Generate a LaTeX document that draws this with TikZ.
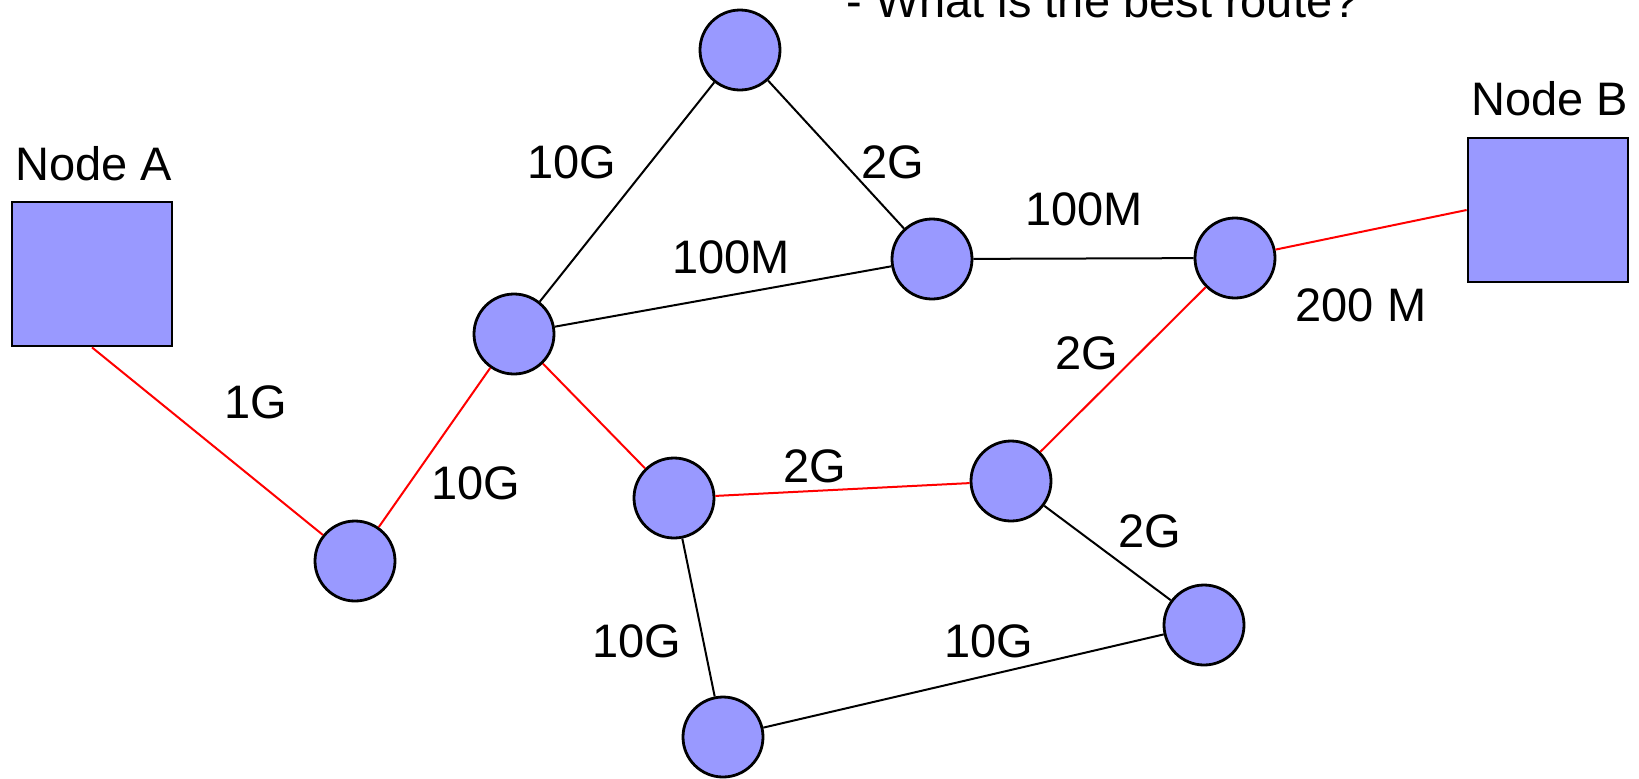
\documentclass[tikz,border=0pt]{standalone}
\usepackage{fontspec}
\setmainfont{Liberation Sans}
\definecolor{nodefill}{HTML}{9999FF}
\begin{document}
\begin{tikzpicture}[x=0.5pt,y=-0.5pt,
  router/.style={circle,draw=black,line width=1.4pt,fill=nodefill,minimum size=40pt,inner sep=0pt},
  host/.style={rectangle,draw=black,line width=1.4pt,fill=nodefill,minimum width=80pt,minimum height=72pt,inner sep=0pt},
  lbl/.style={inner sep=0pt,font=\fontsize{23.5}{28}\selectfont},
  link/.style={line width=1pt,draw=black},
  best/.style={line width=1pt,draw=red}]
\useasboundingbox (0,0) rectangle (1639,778);
% nodes
\node[host] (A) at (92,274) {};
\node[host] (B) at (1548,210) {};
\node[router] (T) at (740,50) {};
\node[router] (C1) at (514,334) {};
\node[router] (C2) at (932,259) {};
\node[router] (C3) at (1235,258) {};
\node[router] (BL) at (355,561) {};
\node[router] (C4) at (674,498) {};
\node[router] (C5) at (1011,481) {};
\node[router] (C6) at (1204,625) {};
\node[router] (Bot) at (723,737) {};
% links
\draw[link] (T) -- (C1);
\draw[link] (T) -- (C2);
\draw[link] (C1) -- (C2);
\draw[link] (C2) -- (C3);
\draw[link] (C4) -- (Bot);
\draw[link] (Bot) -- (C6);
\draw[link] (C5) -- (C6);
\draw[best] (A.south) -- (BL);
\draw[best] (BL) -- (C1);
\draw[best] (C1) -- (C4);
\draw[best] (C4) -- (C5);
\draw[best] (C5) -- (C3);
\draw[best] (C3) -- (B.west);
% labels
\node[lbl] (lA) at (94,164) {Node A};
\node[lbl] (lB) at (1550,99) {Node B};
\node[lbl,anchor=base west] (q) at (846,17) {- What is the best route?};
\node[lbl] (l1) at (572,162) {10G};
\node[lbl] (l2) at (893,162) {2G};
\node[lbl] (l3) at (1084,209) {100M};
\node[lbl] (l4) at (731,257) {100M};
\node[lbl] (l5) at (256,402) {1G};
\node[lbl] (l6) at (476,483) {10G};
\node[lbl] (l7) at (1087,353) {2G};
\node[lbl] (l8) at (1361,305) {200 M};
\node[lbl] (l9) at (815,466) {2G};
\node[lbl] (l10) at (1150,531) {2G};
\node[lbl] (l11) at (637,641) {10G};
\node[lbl] (l12) at (989,641) {10G};
\end{tikzpicture}
\end{document}
